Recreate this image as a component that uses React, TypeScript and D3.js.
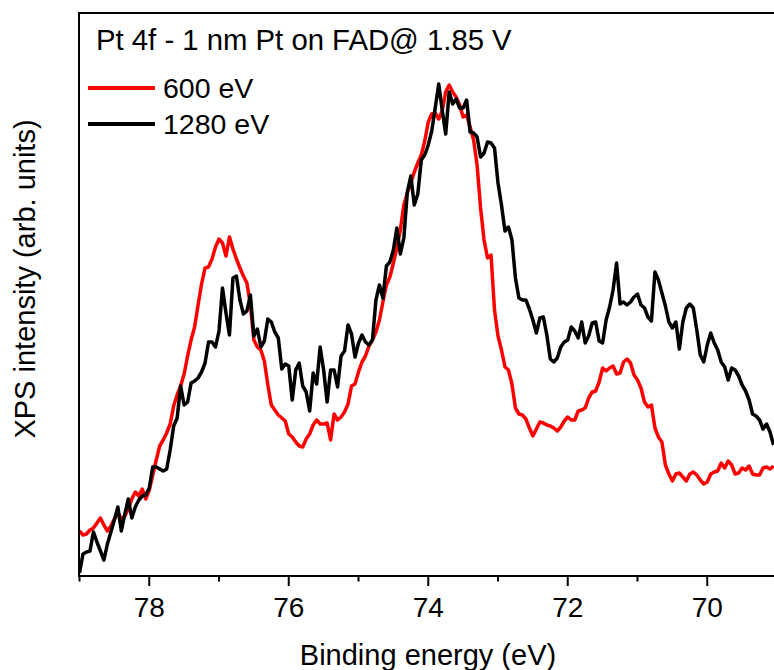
import React from "react";
import * as d3 from "d3";

// Pt 4f spectra, 1 nm Pt on FAD, recorded at two photon energies.
// Binding energy grid: 79.00 eV downwards in 0.05 eV steps.
const startEnergy = 79.0;
const energyStep = 0.05;

// Intensities in arbitrary units
const intensity600 = [
  45, 41, 42, 46, 48, 53, 58, 51, 45, 50,
  57, 63, 57, 60, 67, 77, 84, 80, 87, 77,
  86, 101, 116, 130, 136, 143, 152, 170, 181, 190,
  202, 220, 236, 249, 271, 292, 308, 309, 317, 329,
  337, 333, 320, 339, 327, 317, 308, 300, 293, 271,
  236, 229, 226, 215, 191, 171, 166, 161, 158, 155,
  142, 139, 134, 130, 129, 137, 142, 151, 156, 152,
  152, 153, 136, 162, 156, 159, 164, 172, 190, 192,
  204, 214, 220, 230, 236, 244, 256, 274, 291, 299,
  313, 328, 346, 371, 383, 393, 404, 413, 421, 435,
  454, 462, 463, 457, 465, 484, 491, 484, 479, 471,
  459, 461, 449, 436, 411, 368, 336, 318, 321, 266,
  240, 226, 209, 206, 192, 168, 162, 161, 157, 148,
  140, 147, 154, 153, 151, 150, 148, 145, 149, 155,
  159, 156, 156, 165, 166, 168, 178, 184, 185, 194,
  208, 205, 208, 210, 202, 203, 214, 217, 213, 201,
  196, 188, 174, 169, 171, 148, 139, 134, 111, 102,
  95, 102, 103, 99, 95, 102, 104, 101, 96, 92,
  94, 102, 104, 105, 113, 108, 115, 111, 102, 103,
  108, 106, 110, 102, 101, 101, 108, 109, 107, 110,
];

const intensity1280 = [
  3, 22, 24, 25, 44, 34, 25, 16, 32, 44,
  56, 69, 45, 62, 77, 58, 69, 76, 80, 81,
  88, 109, 109, 107, 105, 107, 126, 150, 158, 190,
  171, 174, 193, 195, 198, 204, 213, 234, 234, 229,
  245, 288, 263, 241, 298, 300, 276, 262, 265, 281,
  240, 247, 229, 235, 257, 254, 244, 238, 207, 212,
  210, 176, 206, 213, 190, 184, 165, 203, 192, 229,
  206, 174, 206, 206, 189, 220, 225, 251, 242, 219,
  233, 241, 234, 231, 236, 276, 291, 278, 310, 314,
  326, 348, 322, 338, 384, 400, 371, 382, 416, 421,
  431, 445, 468, 492, 466, 442, 484, 472, 477, 468,
  468, 476, 444, 443, 439, 419, 423, 434, 433, 428,
  393, 371, 345, 349, 336, 298, 278, 276, 276, 267,
  256, 243, 258, 259, 241, 217, 214, 218, 229, 234,
  236, 249, 245, 238, 254, 233, 240, 253, 254, 235,
  233, 256, 269, 286, 313, 272, 274, 271, 274, 279,
  282, 271, 268, 259, 255, 304, 296, 283, 270, 254,
  248, 254, 227, 254, 268, 272, 268, 246, 221, 214,
  231, 243, 233, 226, 214, 209, 196, 208, 206, 200,
  191, 185, 176, 162, 160, 156, 147, 152, 144, 131,
];

const majorTicks = [78, 76, 74, 72, 70];
const minorTicks = [79, 77, 75, 73, 71];

const seriesLabels = ["600 eV", "1280 eV"];
const seriesColors = ["#ff0000", "#000000"];

const titleText = "Pt 4f - 1 nm Pt on FAD@ 1.85 V";
const xLabel = "Binding energy (eV)";
const yLabel = "XPS intensity (arb. units)";

const W = 774;
const H = 670;
const left = 79;
const top = 13;
const bottom = 576;
const FONT = "'Liberation Sans', Arial, Helvetica, sans-serif";

export default function App() {
  const x = d3.scaleLinear().domain([79, 69]).range([79.5, 777]);
  const y = d3.scaleLinear().domain([0, bottom - top]).range([bottom, top]);

  const energy = (i: number) => startEnergy - energyStep * i;

  const line = d3
    .line<number>()
    .x((_, i) => x(energy(i)))
    .y((v) => y(v));

  const series = [intensity600, intensity1280];

  return (
    <svg
      width={W}
      height={H}
      style={{ position: "absolute", left: 0, top: 0, background: "#fff" }}
      fontFamily={FONT}
    >
      <defs>
        <clipPath id="plotClip">
          <rect x={left} y={top} width={W - left} height={bottom - top} />
        </clipPath>
      </defs>
      <rect x={0} y={0} width={W} height={H} fill="#fff" />

      <g clipPath="url(#plotClip)">
        {series.map((s, k) => (
          <path
            key={k}
            d={line(s) || ""}
            fill="none"
            stroke={seriesColors[k]}
            strokeWidth={3.5}
            strokeLinejoin="round"
          />
        ))}
      </g>

      {/* frame */}
      <line x1={left} x2={W} y1={top} y2={top} stroke="#000" strokeWidth={2} />
      <line x1={left} x2={left} y1={top - 1} y2={bottom + 1} stroke="#000" strokeWidth={2} />
      <line x1={left} x2={W} y1={bottom} y2={bottom} stroke="#000" strokeWidth={2} />

      {/* x ticks */}
      {majorTicks.map((t) => (
        <g key={"M" + t}>
          <line x1={x(t)} x2={x(t)} y1={bottom} y2={bottom + 10} stroke="#000" strokeWidth={2} />
          <text x={x(t)} y={617} textAnchor="middle" fontSize={28}>
            {t}
          </text>
        </g>
      ))}
      {minorTicks.map((t) => (
        <line key={"m" + t} x1={x(t)} x2={x(t)} y1={bottom} y2={bottom + 5.5} stroke="#000" strokeWidth={2} />
      ))}

      {/* axis titles */}
      <text x={428} y={665} textAnchor="middle" fontSize={29}>
        {xLabel}
      </text>
      <text
        transform="translate(35,279) rotate(-90)"
        textAnchor="middle"
        fontSize={29}
      >
        {yLabel}
      </text>

      {/* annotation + legend */}
      <text x={96} y={50} fontSize={29.3}>
        {titleText}
      </text>
      {seriesLabels.map((lab, k) => (
        <g key={lab}>
          <line
            x1={88}
            x2={155}
            y1={88 + 36 * k}
            y2={88 + 36 * k}
            stroke={seriesColors[k]}
            strokeWidth={4}
          />
          <text x={163} y={98 + 36 * k} fontSize={28.5}>
            {lab}
          </text>
        </g>
      ))}
    </svg>
  );
}
